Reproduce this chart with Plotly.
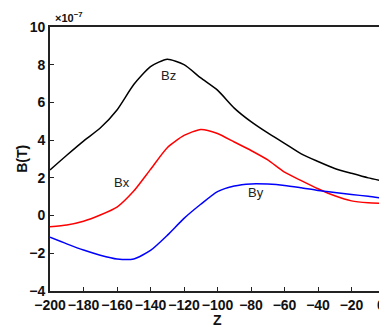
import plotly.graph_objects as go

Z = [-200, -190, -180, -170, -160, -150, -140, -130, -120, -110, -100,
     -90, -80, -70, -60, -50, -40, -30, -20, -10, -2]
Bz = [2.42, 3.2, 3.95, 4.64, 5.6, 6.95, 7.9, 8.29, 8.0, 7.3, 6.65,
      5.7, 4.98, 4.38, 3.83, 3.27, 2.87, 2.5, 2.24, 2.0, 1.85]
Bx = [-0.59, -0.5, -0.3, 0.03, 0.45, 1.3, 2.45, 3.6, 4.25, 4.57, 4.35,
      3.9, 3.45, 2.95, 2.3, 1.85, 1.42, 1.05, 0.78, 0.68, 0.65]
By = [-1.15, -1.5, -1.83, -2.1, -2.3, -2.3, -1.85, -1.05, -0.15, 0.6, 1.27,
      1.57, 1.68, 1.67, 1.6, 1.47, 1.33, 1.22, 1.12, 1.02, 0.92]

x_ticks = [-200, -180, -160, -140, -120, -100, -80, -60, -40, -20, 0]
x_labels = ["\u2212200", "\u2212180", "\u2212160", "\u2212140", "\u2212120", "\u2212100",
            "\u221280", "\u221260", "\u221240", "\u221220", "0"]
y_ticks = [-4, -2, 0, 2, 4, 6, 8, 10]
y_labels = ["\u22124", "\u22122", "0", "2", "4", "6", "8", "10"]

series = [("Bz", Bz, "#000000", -129, 7.45),
          ("Bx", Bx, "#ff0000", -157, 1.78),
          ("By", By, "#0000ff", -77, 1.2)]

FONT = "Liberation Sans, Arial, sans-serif"

fig = go.Figure()
for name, vals, color, lx, ly in series:
    fig.add_trace(go.Scatter(x=Z, y=vals, mode="lines", name=name,
                             line=dict(color=color, width=1.5, shape="spline", smoothing=0.6),
                             showlegend=False))
    fig.add_annotation(x=lx, y=ly, text=name, showarrow=False,
                       font=dict(family=FONT, size=13, color="#222"))

# last x tick label sits at the very edge of the page; draw it as a text nudged inside
tick_text = ["<b>%s</b>" % t for t in x_labels]
last_label = tick_text[-1]
tick_text[-1] = ""
fig.add_annotation(xref="paper", yref="paper", x=1.006, y=-0.015, xanchor="right", yanchor="top",
                   text=last_label, showarrow=False,
                   font=dict(family=FONT, size=14, color="#111"))

fig.add_annotation(xref="paper", yref="paper", x=0.009, y=1.038, xanchor="left", yanchor="middle",
                   text="<b>\u00d710<sup>\u22127</sup></b>", showarrow=False,
                   font=dict(family=FONT, size=11, color="#111"))
fig.add_annotation(xref="paper", yref="paper", x=0.5, y=-0.11, xanchor="center", yanchor="middle",
                   text="<b>Z</b>", showarrow=False,
                   font=dict(family=FONT, size=14, color="#111"))
fig.add_annotation(xref="paper", yref="paper", x=-0.084, y=0.5, xanchor="center", yanchor="middle",
                   text="<b>B(T)</b>", textangle=-90, showarrow=False,
                   font=dict(family=FONT, size=14, color="#111"))

axis_common = dict(showline=True, linecolor="#222", linewidth=1.8, mirror=True,
                   ticks="inside", ticklen=4, tickcolor="#222", tickwidth=1.2,
                   showgrid=False, zeroline=False, automargin=False,
                   ticklabeloverflow="allow",
                   tickfont=dict(family=FONT, size=14, color="#111"))

fig.update_layout(
    width=379, height=319,
    margin=dict(l=42, r=2, t=19, b=36),
    paper_bgcolor="white", plot_bgcolor="white",
    xaxis=dict(range=[-200, 0], tickvals=x_ticks, tickangle=0,
               ticktext=tick_text, **axis_common),
    yaxis=dict(range=[-4, 10], tickvals=y_ticks,
               ticktext=["<b>%s</b>" % t for t in y_labels],
               **axis_common),
)

fig.write_html("out.html")
